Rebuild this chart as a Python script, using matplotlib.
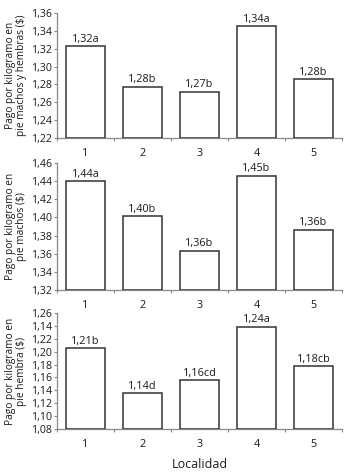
import matplotlib
matplotlib.use("Agg")
import matplotlib.pyplot as plt
from matplotlib.ticker import FixedLocator

plt.rcParams['font.family'] = ['Open Sans', 'DejaVu Sans']

categories = ["1", "2", "3", "4", "5"]

vals_total = [1.323, 1.2775, 1.272, 1.345, 1.286]
labels_total = ["1,32a", "1,28b", "1,27b", "1,34a", "1,28b"]
yticks_total = [1.22, 1.24, 1.26, 1.28, 1.30, 1.32, 1.34, 1.36]
yticklabels_total = ["1,22", "1,24", "1,26", "1,28", "1,30", "1,32", "1,34", "1,36"]

vals_machos = [1.440, 1.4015, 1.3635, 1.446, 1.3865]
labels_machos = ["1,44a", "1,40b", "1,36b", "1,45b", "1,36b"]
yticks_machos = [1.32, 1.34, 1.36, 1.38, 1.40, 1.42, 1.44, 1.46]
yticklabels_machos = ["1,32", "1,34", "1,36", "1,38", "1,40", "1,42", "1,44", "1,46"]

vals_hembra = [1.2055, 1.136, 1.1555, 1.239, 1.177]
labels_hembra = ["1,21b", "1,14d", "1,16cd", "1,24a", "1,18cb"]
yticks_hembra = [1.08, 1.10, 1.12, 1.14, 1.16, 1.18, 1.20, 1.22, 1.24, 1.26]
yticklabels_hembra = ["1,08", "1,10", "1,12", "1,14", "1,16", "1,18", "1,20", "1,22", "1,14", "1,26"]

ylabels = ["Pago por kilogramo en\npie machos y hembras ($)",
           "Pago por kilogramo en\npie machos ($)",
           "Pago por kilogramo en\npie hembra ($)"]

fig = plt.figure(figsize=(3.47, 4.72), dpi=100)
rects = [
    [57/347, (472-138)/472, 285/347, 125/472],
    [57/347, (472-290)/472, 285/347, 127/472],
    [57/347, (472-429)/472, 285/347, 116/472],
]
panels = [
    (vals_total, labels_total, yticks_total, yticklabels_total),
    (vals_machos, labels_machos, yticks_machos, yticklabels_machos),
    (vals_hembra, labels_hembra, yticks_hembra, yticklabels_hembra),
]
axcol = "#888888"
edge = "#333333"
txt = "#1a1a1a"
for i, (rect, (vals, labs, yt, ytl)) in enumerate(zip(rects, panels)):
    ax = fig.add_axes(rect)
    x = list(range(len(categories)))
    base = yt[0]
    heights = [v - base for v in vals]
    ax.bar(x, heights, bottom=base, width=0.7, color="white",
           edgecolor=edge, linewidth=1.1, zorder=3)
    for xi, v, l in zip(x, vals, labs):
        ax.text(xi, v + (yt[-1]-yt[0])*0.01, l, ha="center", va="bottom",
                fontsize=7.8, color=txt)
    ax.set_xlim(-0.5, len(categories) - 0.5)
    ax.set_ylim(yt[0], yt[-1])
    ax.set_yticks(yt)
    ax.set_yticklabels(ytl)
    ax.set_xticks(x)
    ax.set_xticklabels(categories)
    ax.xaxis.set_minor_locator(FixedLocator([k + 0.5 for k in range(-1, len(categories))]))
    ax.tick_params(axis="x", which="major", length=0, pad=7, labelsize=7.8, colors=txt)
    ax.tick_params(axis="x", which="minor", length=2.5, color=axcol, width=0.8)
    ax.tick_params(axis="y", length=2.5, width=0.8, color=axcol, labelsize=7.6,
                   labelcolor=txt, pad=1)
    for s in ["top", "right"]:
        ax.spines[s].set_visible(False)
    for s in ["left", "bottom"]:
        ax.spines[s].set_color(axcol)
        ax.spines[s].set_linewidth(0.9)
    ax.set_ylabel(ylabels[i], fontsize=7.3, color=txt, labelpad=3, linespacing=1.0)
    if i == 2:
        ax.set_xlabel("Localidad", fontsize=9, color=txt, labelpad=6)

fig.savefig("out.png", dpi=100)
